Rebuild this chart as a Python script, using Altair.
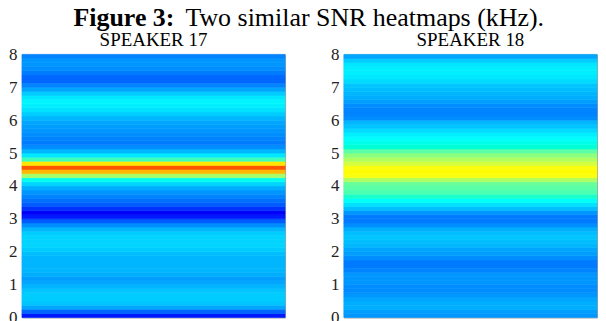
import altair as alt
import pandas as pd

# ---- data ----
BIN_KHZ = 0.125
speakers = ["SPEAKER 17", "SPEAKER 18"]
# SNR (normalised colour value), one per 0.125 kHz band, from 0 kHz upward
snr_17 = [0.13, 0.18, 0.25, 0.29, 0.30, 0.30, 0.29, 0.27,
          0.25, 0.24, 0.26, 0.27, 0.27, 0.27, 0.27, 0.28,
          0.30, 0.31, 0.31, 0.31, 0.30, 0.27, 0.22, 0.17,
          0.13, 0.12, 0.14, 0.17, 0.19, 0.21, 0.23, 0.26,
          0.31, 0.40, 0.55, 0.72, 0.83, 0.66, 0.47, 0.34,
          0.27, 0.22, 0.20, 0.21, 0.22, 0.23, 0.24, 0.25,
          0.27, 0.30, 0.33, 0.35, 0.36, 0.34, 0.30, 0.25,
          0.21, 0.18, 0.18, 0.20, 0.22, 0.23, 0.23, 0.21]
snr_18 = [0.23, 0.24, 0.26, 0.26, 0.25, 0.23, 0.22, 0.22,
          0.23, 0.23, 0.23, 0.21, 0.20, 0.20, 0.22, 0.24,
          0.25, 0.27, 0.28, 0.29, 0.28, 0.26, 0.22, 0.20,
          0.20, 0.23, 0.28, 0.33, 0.39, 0.45, 0.48, 0.49,
          0.50, 0.56, 0.62, 0.63, 0.62, 0.59, 0.56, 0.53,
          0.49, 0.44, 0.41, 0.38, 0.35, 0.32, 0.29, 0.27,
          0.22, 0.21, 0.21, 0.22, 0.24, 0.26, 0.27, 0.28,
          0.29, 0.32, 0.34, 0.35, 0.35, 0.34, 0.30, 0.25]
y_ticks = [0, 1, 2, 3, 4, 5, 6, 7, 8]
title_bold = "Figure 3:"
title_rest = "Two similar SNR heatmaps (kHz)."

rows = []
for name, vals in zip(speakers, [snr_17, snr_18]):
    for i, v in enumerate(vals):
        rows.append({"speaker": name, "lo": i * BIN_KHZ, "hi": (i + 1) * BIN_KHZ, "snr": v})
df = pd.DataFrame(rows)

jet_domain = [0, 0.125, 0.375, 0.625, 0.875, 1]
jet_range = ["#000080", "#0000ff", "#00ffff", "#ffff00", "#ff0000", "#800000"]
jet = alt.Scale(domain=jet_domain, range=jet_range)

SERIF = "Liberation Serif"


def panel(name, w):
    return (
        alt.Chart(df)
        .transform_filter(alt.datum.speaker == name)
        .mark_rect(strokeWidth=0.6)
        .encode(
            x=alt.value(0),
            x2=alt.value("width"),
            y=alt.Y(
                "lo:Q",
                scale=alt.Scale(domain=[0, 8], nice=False, zero=False),
                axis=alt.Axis(
                    values=y_ticks, title=None, grid=False, ticks=False, domain=False,
                    labelFont=SERIF, labelFontSize=17, labelColor="#222222",
                    labelPadding=5,
                ),
            ),
            y2="hi:Q",
            color=alt.Color("snr:Q", scale=jet, legend=None),
            stroke=alt.Stroke("snr:Q", scale=jet, legend=None),
        )
        .properties(
            width=w, height=264,
            title=alt.TitleParams(
                name, font=SERIF, fontSize=19, fontWeight="normal", color="black",
                frame="group", offset=-5,
            ),
        )
    )


bold = alt.Chart(pd.DataFrame({"t": [title_bold]})).mark_text(
    font=SERIF, fontSize=26, fontWeight="bold", align="right", baseline="alphabetic", color="black"
).encode(x=alt.value(153), y=alt.value(15), text="t:N")
rest = alt.Chart(pd.DataFrame({"t": [title_rest]})).mark_text(
    font=SERIF, fontSize=26, align="left", baseline="alphabetic", color="black"
).encode(x=alt.value(164), y=alt.value(15), text="t:N")
header = alt.layer(bold, rest).properties(
    width=540, height=20, view=alt.ViewBackground(stroke="transparent")
)

chart = (
    alt.vconcat(
        header,
        alt.hconcat(panel(speakers[0], 264), panel(speakers[1], 254), spacing=44),
        spacing=-2,
    )
    .properties(padding={"top": -4, "left": 0, "right": 0, "bottom": 0}, background="white")
    .configure_view(stroke="#a0a0a0", strokeWidth=1)
)

chart.save("out.html", embed_options={"renderer": "svg", "actions": False})
